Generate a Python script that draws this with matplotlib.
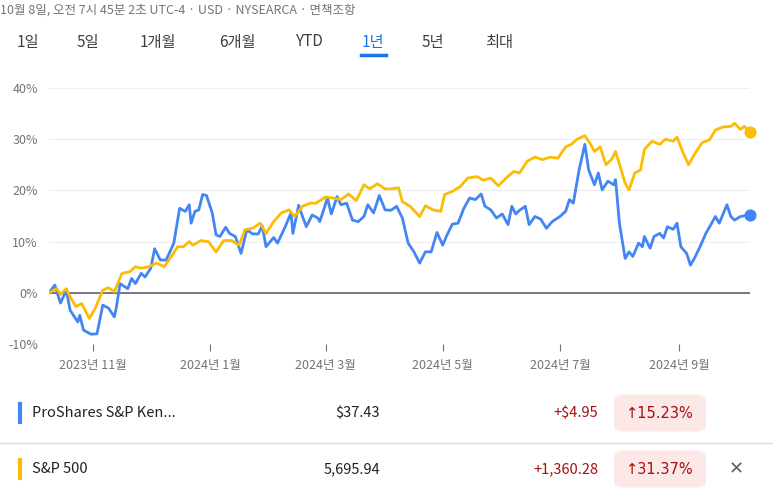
import matplotlib.pyplot as plt
from matplotlib.patches import FancyBboxPatch
from matplotlib import font_manager

# pick whichever CJK family is registered
names = {f.name for f in font_manager.fontManager.ttflist}
cjk = [n for n in ['Noto Sans CJK KR', 'Noto Sans CJK JP', 'Noto Sans CJK SC', 'Noto Sans CJK TC'] if n in names]
plt.rcParams['font.family'] = cjk + ['DejaVu Sans']

# days since 2023-10-09, % change
pro_days = [0,3,6,9,11,15,16,18,22,25,28,31,34,35,37,41,43,45,48,50,53,55,58,61,65,68,71,73,74,76,78,80,82,85,87,89,92,94,97,100,103,106,109,111,113,117,119,123,126,127,130,132,134,137,140,141,145,147,150,152,155,158,161,164,166,169,172,175,178,181,184,187,190,193,196,199,202,205,207,210,213,216,219,222,225,227,230,233,236,239,241,243,245,248,250,253,256,259,262,266,269,271,273,276,279,281,284,286,288,291,294,295,297,300,302,304,307,309,310,313,315,318,320,322,325,327,329,332,334,336,339,342,344,347,349,353,355,357,360,365]
pro_vals = [0,1.5,-2,0.5,-3.4,-5.7,-4.4,-7.3,-8.1,-8,-2.4,-3,-4.7,-3,1.8,0.8,2.8,1.8,3.8,3.1,4.8,8.6,6.4,6.4,9.7,16.5,15.9,17.2,13.6,15.9,16.2,19.2,19,15.6,11.3,11,12.8,11.6,11,7.7,12.3,11.5,11.5,13.1,9,10.8,9.7,12.9,15.6,11.6,17.1,14.9,12.9,15.2,14.6,13.9,18.5,15.4,18.8,17.2,17.5,14.2,13.9,14.9,17.2,15.6,19,16.2,16.1,16.9,14.6,9.7,8,5.8,8,8,11.8,9.3,11.1,13.4,13.6,16.5,18.5,18.2,19.3,16.9,16.2,14.6,15.4,13.3,16.9,15.4,16.1,16.9,13.3,14.9,14.4,12.6,13.9,14.9,15.9,18.2,17.5,24,29,24,21.1,23.4,20.1,21.8,21.1,22.1,13.6,6.7,8,7.1,9.7,9,11,8.7,11,11.6,10.7,12.9,12.4,13.6,9,7.7,5.4,6.7,9,11.6,12.9,14.9,13.6,17.2,14.9,14.2,14.9,15.23]

spx_days = [0,4,6,9,11,14,17,21,24,28,31,34,36,38,42,45,48,52,56,60,63,67,70,73,75,79,83,87,91,95,99,102,106,110,113,117,121,125,128,132,136,139,144,148,152,156,160,164,167,171,175,178,182,184,188,193,196,200,204,206,210,214,218,223,226,230,234,238,242,245,249,253,257,261,265,269,272,275,279,282,284,287,290,293,295,300,302,305,308,310,314,318,321,325,327,330,333,336,340,344,347,351,355,357,360,362,365]
spx_vals = [0,0.8,-0.3,0.8,-0.8,-2.7,-2.1,-5,-3.1,0.5,1,0.2,2,3.8,4.1,5.1,4.8,5.1,5.8,5.1,6.7,9,9,10,9.3,10.2,10,8,10.2,10.2,9.3,12.3,12.6,13.6,11.6,13.9,15.6,16.2,14.9,16.9,17.5,17.5,18.7,18.5,18.2,19.3,18,21.1,20.3,21.3,20.3,20.3,20.5,17.8,16.9,14.9,17,16.2,15.9,19.2,19.8,20.7,22.4,22.7,22,22.4,20.9,22.4,23.7,23.4,25.7,26.5,26,26.5,26.3,28.5,29,30,30.7,29,27.6,28.5,25,26.1,27.6,21.4,20.1,23.4,24,28,29.6,29,30,29.6,30.4,27.5,25,27,29.3,29.9,31.8,32.4,32.5,33.1,31.9,32.5,31.37]

tick_days = [23, 84, 144, 205, 266, 328]
tick_labels = ['2023년 11월', '2024년 1월', '2024년 3월', '2024년 5월', '2024년 7월', '2024년 9월']
yticks = [-10, 0, 10, 20, 30, 40]
tabs = ['1일', '5일', '1개월', '6개월', 'YTD', '1년', '5년', '최대']
tab_x = [28, 88, 158, 237, 310, 373, 433, 499]

BLUE = '#4285f4'
GOLD = '#fbbc04'

fig = plt.figure(figsize=(7.73, 4.99), dpi=100)
ax = fig.add_axes([49/773, 1-344/499, 701/773, 256/499])
ax.plot(pro_days, pro_vals, color=BLUE, lw=2)
ax.plot(spx_days, spx_vals, color=GOLD, lw=2)
ax.scatter([pro_days[-1]], [pro_vals[-1]], color=BLUE, s=60, zorder=5, clip_on=False)
ax.scatter([spx_days[-1]], [spx_vals[-1]], color=GOLD, s=60, zorder=5, clip_on=False)
ax.axhline(0, color='#5f6368', lw=1.2, zorder=1)
ax.set_xlim(0, 365)
ax.set_ylim(-10, 40)
ax.set_yticks(yticks)
ax.set_yticklabels([f'{v}%' for v in yticks], color='#70757a', fontsize=9)
ax.set_xticks(tick_days)
ax.set_xticklabels(tick_labels, color='#70757a', fontsize=9)
ax.tick_params(axis='y', length=0, pad=8)
ax.tick_params(axis='x', length=5, color='#70757a', pad=6)
ax.grid(axis='y', color='#eeeeee', lw=0.8)
for s in ax.spines.values():
    s.set_visible(False)
ax.set_axisbelow(True)

# header and tabs
fig.text(0, 1-10/499, '10월 8일, 오전 7시 45분 2초 UTC-4 · USD · NYSEARCA · 면책조항',
         fontsize=9, color='#70757a', va='center')
for lab, x in zip(tabs, tab_x):
    fig.text(x/773, 1-42/499, lab, fontsize=11, ha='center', va='center',
             color='#1a73e8' if lab == '1년' else '#3c4043')
fig.add_artist(plt.Line2D([361/773, 386/773], [1-55/499]*2, color='#1a73e8', lw=2.5))

# bottom rows
rows = [('ProShares S&P Ken...', '$37.43', '+$4.95', '↑15.23%', BLUE, 413),
        ('S&P 500', '5,695.94', '+1,360.28', '↑31.37%', GOLD, 469)]
for name, price, chg, pct, col, y in rows:
    yf = 1 - y/499
    fig.add_artist(plt.Line2D([20/773]*2, [yf-0.018, yf+0.018], color=col, lw=3))
    fig.text(32/773, yf, name, fontsize=10.5, va='center', color='#202124')
    fig.text(380/773, yf, price, fontsize=10.5, va='center', ha='right', color='#202124')
    fig.text(598/773, yf, chg, fontsize=10.5, va='center', ha='right', color='#a50e0e')
    fig.add_artist(FancyBboxPatch((614/773, yf-0.037), 92/773, 0.074,
                                  boxstyle='round,pad=0,rounding_size=0.012',
                                  transform=fig.transFigure, fc='#fce8e6', ec='none'))
    fig.text(660/773, yf, pct, fontsize=10.5, va='center', ha='center', color='#a50e0e',
             family='DejaVu Sans')
fig.add_artist(plt.Line2D([0, 1], [1-443/499]*2, color='#dadce0', lw=1))
fig.text(736/773, 1-469/499, '✕', fontsize=13, va='center', ha='center', color='#5f6368',
         family='DejaVu Sans')

fig.savefig('out.png', dpi=100)
